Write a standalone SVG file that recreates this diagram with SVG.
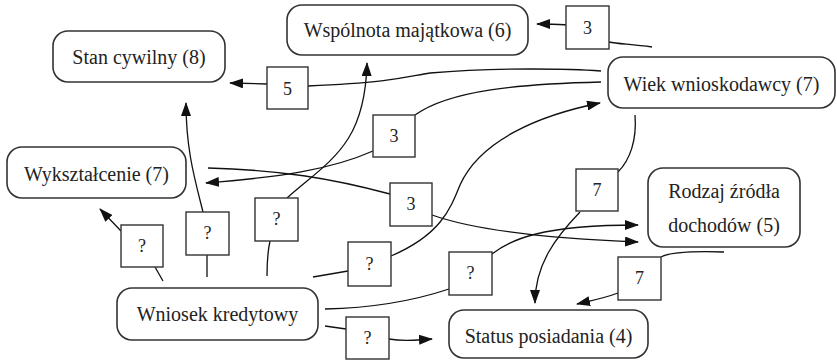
<svg xmlns="http://www.w3.org/2000/svg" width="837" height="360" viewBox="0 0 837 360">
<defs>
<marker id="ah" viewBox="0 0 14 10" refX="13" refY="5" markerWidth="14" markerHeight="10" markerUnits="userSpaceOnUse" orient="auto">
<path d="M0,0 L14,5 L0,10 Z" fill="#111"/>
</marker>
<style>
.node rect{fill:#fff;stroke:#333;stroke-width:1.6}
.node text{font-family:'Liberation Serif','Times New Roman',serif;font-size:20px;fill:#222;text-anchor:middle}
.lab rect{fill:#fff;stroke:#333;stroke-width:1.4}
.lab text{font-family:'Liberation Serif','Times New Roman',serif;font-size:18px;fill:#222;text-anchor:middle}
.c path{fill:none;stroke:#111;stroke-width:1.3}
.c path.a{marker-end:url(#ah)}
</style>
</defs>
<rect width="837" height="360" fill="#fff"/>
<g id="connectors" class="c">
<path d="M652,47 C630,44 618,44 609,42"/>
<path class="a" d="M566,25 C560,24 552,24 537,24"/>
<path d="M601,71 C575,69 500,67 430,73 C405,77 395,82 308,86"/>
<path class="a" d="M267,84 L230,83"/>
<path d="M601,82 C520,84 450,90 415,115"/>
<path class="a" d="M373,151 C330,170 280,177 206,183"/>
<path d="M635,115 C637,140 630,160 618,172"/>
<path class="a" d="M580,212 C555,238 535,265 535,303"/>
<path d="M208,168 C280,170 330,178 390,194"/>
<path class="a" d="M432,215 C480,232 560,239 638,242"/>
<path d="M163,281 L155,267"/>
<path class="a" d="M121,231 L100,209"/>
<path d="M207,277 L207,255"/>
<path class="a" d="M203,212 C195,180 186,150 186,103"/>
<path d="M267,276 C267,260 268,250 270,241"/>
<path class="a" d="M287,198 C330,160 365,145 367,63"/>
<path d="M313,277 L348,271"/>
<path class="a" d="M391,256 C440,235 450,210 460,185 C480,140 540,115 600,103"/>
<path d="M325,309 C370,308 410,302 449,289"/>
<path class="a" d="M492,254 C510,240 540,225 638,225"/>
<path d="M325,326 L346,329"/>
<path class="a" d="M389,339 C405,342 415,340 432,339"/>
<path d="M724,252 C690,251 670,252 661,257"/>
<path class="a" d="M618,293 C605,298 590,301 577,304"/>
</g>
<g id="n-stan" class="node"><rect x="53" y="31" width="172" height="51" rx="15"/><text x="139" y="64">Stan cywilny (8)</text></g>
<g id="n-wspolnota" class="node"><rect x="287" y="5" width="241" height="50" rx="15"/><text x="407.5" y="37">Wspólnota majątkowa (6)</text></g>
<g id="n-wiek" class="node"><rect x="608" y="57" width="227" height="51" rx="15"/><text x="721.5" y="91">Wiek wnioskodawcy (7)</text></g>
<g id="n-wyksztalcenie" class="node"><rect x="7" y="147" width="179" height="51" rx="15"/><text x="96.5" y="181">Wykształcenie (7)</text></g>
<g id="n-rodzaj" class="node"><rect x="648" y="168" width="152" height="79" rx="15"/><text x="724" y="198">Rodzaj źródła</text><text x="724" y="232">dochodów (5)</text></g>
<g id="n-wniosek" class="node"><rect x="117" y="288" width="201" height="52" rx="15"/><text x="217.5" y="321">Wniosek kredytowy</text></g>
<g id="n-status" class="node"><rect x="449" y="310" width="199" height="48" rx="15"/><text x="548.5" y="343">Status posiadania (4)</text></g>
<g id="l-3a" class="lab"><rect x="566" y="6" width="43" height="43"/><text x="587.5" y="34">3</text></g>
<g id="l-5" class="lab"><rect x="267" y="67" width="41" height="42"/><text x="287.5" y="95">5</text></g>
<g id="l-3b" class="lab"><rect x="373" y="115" width="42" height="42"/><text x="394" y="142">3</text></g>
<g id="l-3c" class="lab"><rect x="390" y="183" width="42" height="43"/><text x="411" y="210">3</text></g>
<g id="l-7a" class="lab"><rect x="576" y="169" width="42" height="42"/><text x="597" y="196">7</text></g>
<g id="l-7b" class="lab"><rect x="618" y="257" width="43" height="43"/><text x="639.5" y="284">7</text></g>
<g id="l-qa" class="lab"><rect x="121" y="225" width="42" height="42"/><text x="142" y="252">?</text></g>
<g id="l-qb" class="lab"><rect x="186" y="212" width="43" height="43"/><text x="207.5" y="239">?</text></g>
<g id="l-qc" class="lab"><rect x="255" y="198" width="43" height="43"/><text x="276.5" y="225">?</text></g>
<g id="l-qd" class="lab"><rect x="348" y="242" width="43" height="44"/><text x="369.5" y="270">?</text></g>
<g id="l-qe" class="lab"><rect x="449" y="252" width="43" height="43"/><text x="470.5" y="279">?</text></g>
<g id="l-qf" class="lab"><rect x="346" y="317" width="43" height="42"/><text x="367.5" y="344">?</text></g>
</svg>
